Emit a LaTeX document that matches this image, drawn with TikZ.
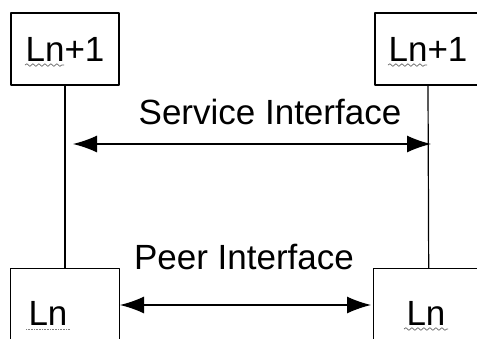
\documentclass[tikz,border=0pt]{standalone}
\usepackage{fontspec}
\setmainfont{Liberation Sans}
\usetikzlibrary{arrows.meta,decorations.pathmorphing}
\begin{document}
\begin{tikzpicture}[x=1pt, y=-1pt, line join=round, font=\fontsize{35}{40}\selectfont, >={Latex[length=24pt,width=17pt]},
		layer/.style={draw, line width=1.4pt, inner sep=0pt},
		link/.style={line width=1.2pt},
		wavy/.style={decorate, decoration={snake, amplitude=1.3pt, segment length=6pt}, line width=.7pt, black!60}]
		\def\xmax{477} \def\ymax{338}
		\useasboundingbox (0,0) rectangle (\xmax,\ymax);
		\begin{scope}
			\clip (0,0) rectangle (\xmax,\ymax);
			% upper layer
			\node[layer, minimum width=108pt, minimum height=72pt] (up1) at (65,49) {Ln+1};
			\node[layer, minimum width=106pt, minimum height=72pt] (up2) at (428,49) {Ln+1};
			% lower layer
			\node[layer, minimum width=109pt, minimum height=100pt, anchor=north west] (low1) at (10,268) {};
			\node[layer, minimum width=110pt, minimum height=100pt, anchor=north west] (low2) at (373,268) {};
			\node[anchor=base] (ln1) at (48,325) {Ln};
			\node[anchor=base] (ln2) at (426,325) {Ln};
		\end{scope}
		% spelling marks
		\draw[wavy] ([shift={(-40,4)}]up1.base) -- ([shift={(-1,4)}]up1.base);
		\draw[wavy] ([shift={(-40,4)}]up2.base) -- ([shift={(-1,4)}]up2.base);
		\draw[wavy] ([shift={(1,4)}]ln2.base west) -- ([shift={(-1,4)}]ln2.base east);
		\draw[densely dotted, line width=.6pt, black!50] ([shift={(1,4)}]ln1.base west) -- ([shift={(-1,4)}]ln1.base east);
		% layer links
		\draw[link] (up1.south) -- (up1.south |- low1.north);
		\draw[link] (up2.south) -- (low2.north);
		% interfaces
		\node (svc) at (270,112) {Service Interface};
		\node (peer) at (244,257) {Peer Interface};
		\coordinate (svcL) at (73,144); \coordinate (svcR) at (431,144);
		\coordinate (peerL) at (120,305); \coordinate (peerR) at (371,305);
		\draw[link, <->] (svcL) -- (svcR);
		\draw[link, <->] (peerL) -- (peerR);
	\end{tikzpicture}
\end{document}
